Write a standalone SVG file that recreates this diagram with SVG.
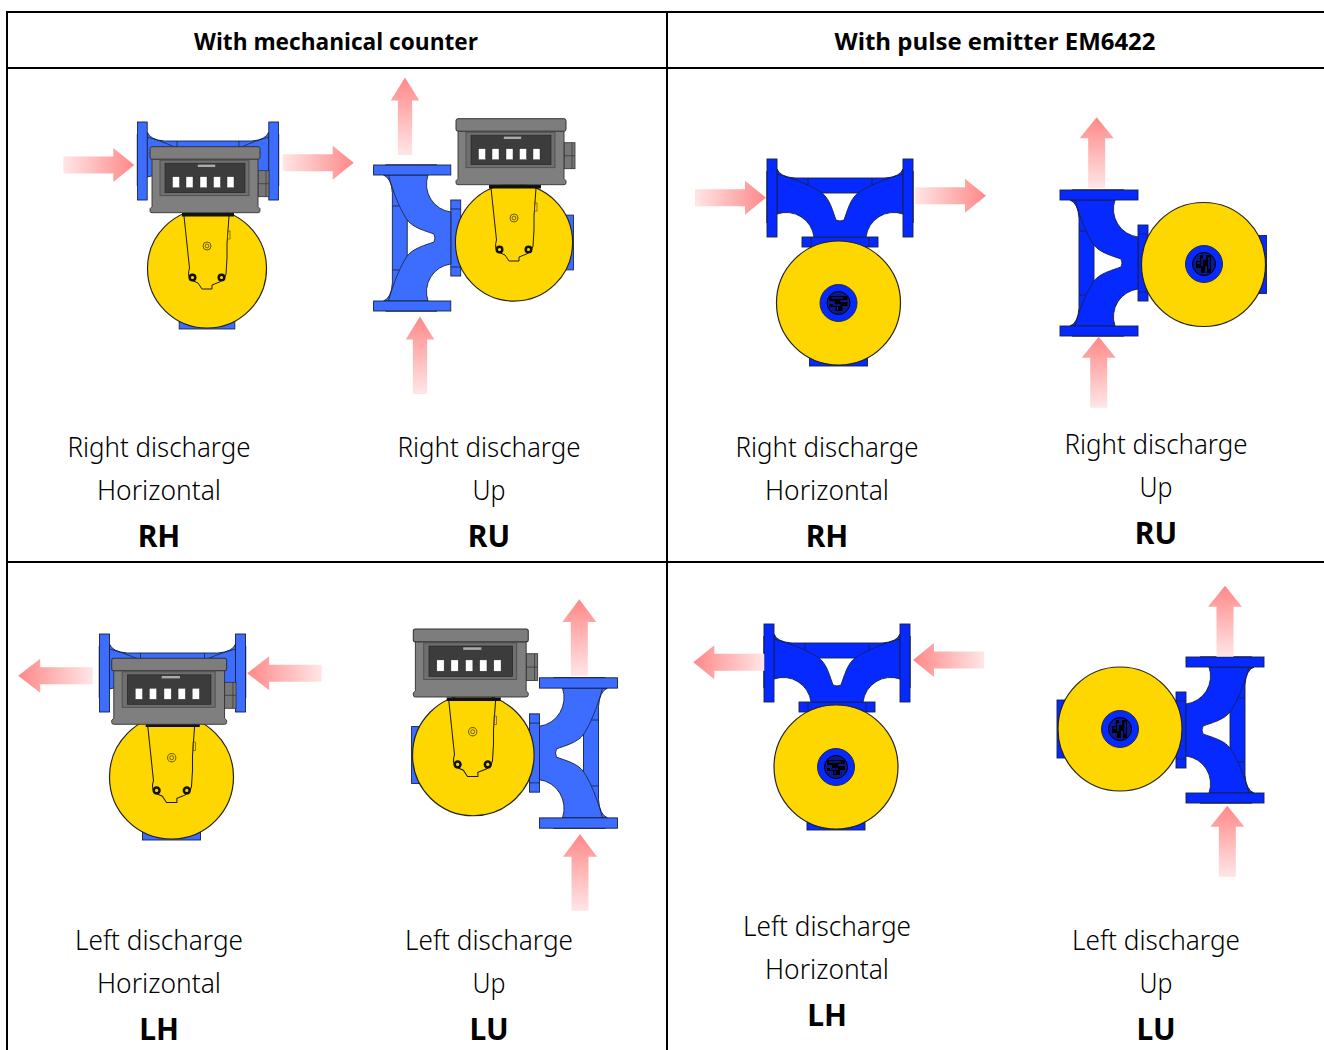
<svg xmlns="http://www.w3.org/2000/svg" xmlns:xlink="http://www.w3.org/1999/xlink" width="1324" height="1050" viewBox="0 0 1324 1050">
<style>
.grid{stroke:#000;stroke-width:2;fill:none}
.mech{color:#3d6dff}
.pulse{color:#0629ff}
.b{fill:currentColor;stroke:#16213f;stroke-width:.9}
.d{fill:none;stroke:#16213f;stroke-width:.8}
.y{fill:#ffd700;stroke:#222;stroke-width:1.2}
.k{fill:none;stroke:#1c1c00;stroke-width:1}
text{font-family:"Noto Sans","Open Sans",sans-serif;fill:#000;text-anchor:middle}
.h{font-size:24px;font-weight:700;font-family:"Open Sans","Noto Sans",sans-serif}
.t{font-size:27px;font-weight:300}
.c{font-size:30px;font-weight:700}
</style>
<defs>
<linearGradient id="ag" x1="0" y1="0" x2="1" y2="0"><stop offset="0" stop-color="#ffe6e6"/><stop offset="1" stop-color="#ff8888"/></linearGradient>
<path id="arrow" d="M0,-8.5H50V-17L71,0L50,17V8.5H0Z" fill="url(#ag)"/>
<g id="pipe">
<rect class="b" x="-38" y="-10" width="76" height="10"/>
<path class="d" d="M-29,-10V0M29,-10V0"/>
<path class="b" fill-rule="evenodd" d="M-63,-78Q-60,-70 -45,-69H45Q60,-70 63,-78V-33A28,28 0 0 0 26,-10H-26A28,28 0 0 0 -63,-33ZM-18,-54H18C10,-48 7,-35 4,-27Q0,-25 -4,-27C-7,-35 -10,-48 -18,-54Z"/>
<path class="d" d="M-63,-73C-45,-68 -28,-61 -18,-54M63,-73C45,-68 28,-61 18,-54M-32,-69V-62M32,-69V-62"/>
<rect class="b" x="-73" y="-88" width="10" height="78"/>
<rect class="b" x="63" y="-88" width="10" height="78"/>
<path class="d" d="M-73.300,-76V-24M73.300,-76V-24"/>
</g>
<g id="body">
<rect class="b" x="-29" y="30" width="58" height="33"/>
<circle class="y" r="62"/>
</g>
<g id="hub">
<circle class="b" r="18.5" stroke-width="1.2"/>
<circle r="11.5" fill="#0a1a88" stroke="#000" stroke-width="1"/>
<path fill="#000" d="M-9,-7H9V-3H2V-1H9V3H4V8H-3V4H-9V1H-4V-2H-9Z"/>
<path stroke="#0629ff" stroke-width="1" fill="none" d="M-7,-5H5M-6,2H2M-1,4V7"/>
</g>
<g id="bracket">
<rect x="-25" y="-33" width="52" height="3.5" fill="#111"/>
<path class="k" d="M-23,-30L-17.5,22Q-20,30 -16,34L-9,37L-5,43H5V39L10,37Q17,35 19,28L20,12V-2M22,-30L20,-2"/>
<rect x="20.500" y="-15" width="2.500" height="8" fill="none" stroke="#5c5200" stroke-width=".7"/>
<circle r="4" fill="none" stroke="#6a5d00" stroke-width="1"/>
<circle r="1.900" fill="none" stroke="#6a5d00" stroke-width=".9"/>
<circle cx="-14.500" cy="31.500" r="2.800" fill="#ffd700" stroke="#111" stroke-width="2.400"/>
<circle cx="14.500" cy="31.500" r="2.800" fill="#ffd700" stroke="#111" stroke-width="2.400"/>
</g>
<g id="counter">
<rect x="108" y="24" width="11" height="26" fill="#777" stroke="#333" stroke-width=".8"/>
<path fill="none" stroke="#333" stroke-width=".7" d="M116,24V50M108,37H119"/>
<path fill="#7f7f7f" stroke="#333" stroke-width=".9" d="M2,12H108V60L110,62V64Q110,66 108,66H2Q0,66 0,64V62L2,60Z"/>
<rect x="0" y="0" width="110" height="12.500" rx="2" fill="#7d7d7d" stroke="#333" stroke-width="1"/>
<rect x="10" y="13.500" width="89" height="35.500" fill="#6f6f6f" stroke="#4a4a4a" stroke-width=".8"/>
<rect x="15" y="16.500" width="80" height="29.500" fill="#3c3c3c" stroke="#222" stroke-width=".6"/>
<rect x="47.500" y="17.500" width="18" height="3" fill="#aaa" stroke="#222" stroke-width=".4"/>
<g fill="#fff" stroke="#222" stroke-width=".4">
<rect x="22.500" y="30" width="7" height="11"/><rect x="36" y="30" width="7" height="11"/><rect x="50" y="30" width="7" height="11"/><rect x="63.500" y="30" width="7" height="11"/><rect x="77" y="30" width="7" height="11"/>
</g>
</g>
</defs>

<g id="grid" class="grid">
<path d="M6,12H1324M6,68H1324M6,562H1324M7,12V1050M667,12V1050"/>
</g>

<g id="header">
<text class="h" x="336" y="50" textLength="284" lengthAdjust="spacingAndGlyphs">With mechanical counter</text>
<text class="h" x="995" y="50" textLength="321" lengthAdjust="spacingAndGlyphs">With pulse emitter EM6422</text>
</g>

<g id="mech-rh" class="mech">
<use href="#pipe" transform="translate(208,210) scale(.965,1)"/>
<use href="#body" transform="translate(207,268.500) scale(.96)"/>
<use href="#bracket" transform="translate(207,246)"/>
<use href="#counter" transform="translate(150,146.700)"/>
<text class="t" x="159" y="457" textLength="183" lengthAdjust="spacingAndGlyphs">Right discharge</text>
<text class="t" x="159" y="500" textLength="124" lengthAdjust="spacingAndGlyphs">Horizontal</text>
<text class="c" x="159" y="547">RH</text>
</g>

<g id="mech-ru" class="mech">
<use href="#pipe" transform="translate(460.700,238) rotate(-90) scale(1,.99)"/>
<use href="#body" transform="translate(514,242.500) rotate(-90) scale(.945)"/>
<use href="#bracket" transform="translate(514,218)"/>
<use href="#counter" transform="translate(456,118.700)"/>
<text class="t" x="489" y="457" textLength="183" lengthAdjust="spacingAndGlyphs">Right discharge</text>
<text class="t" x="489" y="500" textLength="33" lengthAdjust="spacingAndGlyphs">Up</text>
<text class="c" x="489" y="547">RU</text>
</g>

<g id="mech-lh" class="mech">
<use href="#pipe" transform="translate(172.500,722)"/>
<use href="#body" transform="translate(171.500,777)"/>
<use href="#bracket" transform="translate(171.700,757.700) scale(1.04)"/>
<use href="#counter" transform="translate(111.700,658.300) scale(1.045,1)"/>
<text class="t" x="159" y="950" textLength="168" lengthAdjust="spacingAndGlyphs">Left discharge</text>
<text class="t" x="159" y="993" textLength="124" lengthAdjust="spacingAndGlyphs">Horizontal</text>
<text class="c" x="159" y="1040">LH</text>
</g>

<g id="mech-lu" class="mech">
<use href="#pipe" transform="translate(529.500,753) rotate(90) scale(1.03,1)"/>
<use href="#body" transform="translate(473.300,755) rotate(90) scale(.98)"/>
<use href="#bracket" transform="translate(472.700,731.700) scale(1.04)"/>
<use href="#counter" transform="translate(413.300,629) scale(1.045,1.03)"/>
<text class="t" x="489" y="950" textLength="168" lengthAdjust="spacingAndGlyphs">Left discharge</text>
<text class="t" x="489" y="993" textLength="33" lengthAdjust="spacingAndGlyphs">Up</text>
<text class="c" x="489" y="1040">LU</text>
</g>

<g id="pulse-rh" class="pulse">
<use href="#pipe" transform="translate(840,247)"/>
<use href="#body" transform="translate(838.500,303)"/>
<use href="#hub" transform="translate(838.500,303)"/>
<text class="t" x="827" y="457" textLength="183" lengthAdjust="spacingAndGlyphs">Right discharge</text>
<text class="t" x="827" y="500" textLength="124" lengthAdjust="spacingAndGlyphs">Horizontal</text>
<text class="c" x="827" y="547">RH</text>
</g>

<g id="pulse-ru" class="pulse">
<use href="#pipe" transform="translate(1148,263) rotate(-90)"/>
<use href="#body" transform="translate(1203.500,264.500) rotate(-90)"/>
<use href="#hub" transform="translate(1204,264) rotate(90)"/>
<text class="t" x="1156" y="454" textLength="183" lengthAdjust="spacingAndGlyphs">Right discharge</text>
<text class="t" x="1156" y="497" textLength="33" lengthAdjust="spacingAndGlyphs">Up</text>
<text class="c" x="1156" y="544">RU</text>
</g>

<g id="pulse-lh" class="pulse">
<use href="#pipe" transform="translate(837,712)"/>
<use href="#body" transform="translate(836,767)"/>
<use href="#hub" transform="translate(836,767)"/>
<text class="t" x="827" y="936" textLength="168" lengthAdjust="spacingAndGlyphs">Left discharge</text>
<text class="t" x="827" y="979" textLength="124" lengthAdjust="spacingAndGlyphs">Horizontal</text>
<text class="c" x="827" y="1026">LH</text>
</g>

<g id="pulse-lu" class="pulse">
<use href="#pipe" transform="translate(1176,730) rotate(90)"/>
<use href="#body" transform="translate(1120,729) rotate(90)"/>
<use href="#hub" transform="translate(1120,729) rotate(90)"/>
<text class="t" x="1156" y="950" textLength="168" lengthAdjust="spacingAndGlyphs">Left discharge</text>
<text class="t" x="1156" y="993" textLength="33" lengthAdjust="spacingAndGlyphs">Up</text>
<text class="c" x="1156" y="1040">LU</text>
</g>

<g id="connectors">
<use href="#arrow" transform="translate(63.300,165)"/>
<use href="#arrow" transform="translate(282.700,162.700)"/>
<use href="#arrow" transform="translate(405,155) rotate(-90) scale(1.09,.84)"/>
<use href="#arrow" transform="translate(420,394) rotate(-90) scale(1.09,.84)"/>
<use href="#arrow" transform="translate(695,197.700)"/>
<use href="#arrow" transform="translate(915,195.700)"/>
<use href="#arrow" transform="translate(1096.700,188.300) rotate(-90)"/>
<use href="#arrow" transform="translate(1098.700,407.700) rotate(-90)"/>
<use href="#arrow" transform="translate(92.700,675.700) rotate(180) scale(1.05,1)"/>
<use href="#arrow" transform="translate(321.700,673.300) rotate(180) scale(1.05,1)"/>
<use href="#arrow" transform="translate(579.300,676) rotate(-90) scale(1.08,1)"/>
<use href="#arrow" transform="translate(580,910.700) rotate(-90) scale(1.08,1)"/>
<use href="#arrow" transform="translate(764.300,662.300) rotate(180)"/>
<use href="#arrow" transform="translate(984,660) rotate(180)"/>
<use href="#arrow" transform="translate(1225,656.700) rotate(-90)"/>
<use href="#arrow" transform="translate(1227.300,876.700) rotate(-90)"/>
</g>
</svg>
